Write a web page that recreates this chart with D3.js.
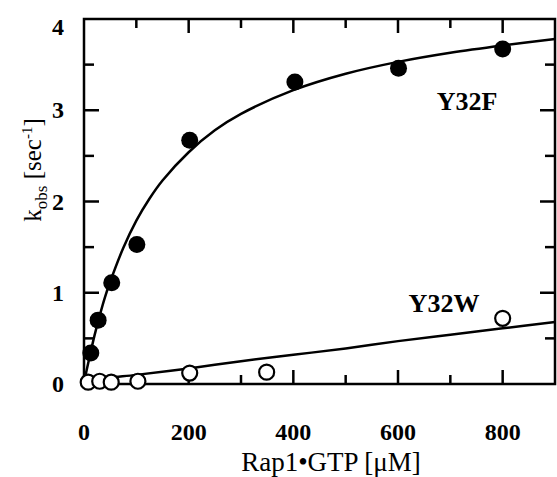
<!DOCTYPE html>
<html>
<head>
<meta charset="utf-8">
<script src="https://cdn.jsdelivr.net/npm/d3@7"></script>
<style>
  body { margin: 0; background: #fff; }
  text { font-family: "Liberation Serif", "Times New Roman", serif; fill: #000; }
</style>
</head>
<body>
<div id="chart"></div>
<script>
// measured points, Rap1*GTP [uM] vs k_obs [1/s]
const y32fX = [13, 27, 53, 101, 202, 403, 601, 800];
const y32fY = [0.34, 0.70, 1.11, 1.53, 2.67, 3.31, 3.46, 3.67];
const y32wX = [8, 30, 52, 103, 202, 349, 800];
const y32wY = [0.02, 0.03, 0.02, 0.03, 0.12, 0.13, 0.72];

// fitted curves
const fitFX = [0, 5, 10, 20, 30, 40, 50, 75, 100, 125, 150, 200, 250, 300, 400, 500, 600, 700, 800, 900];
const fitFY = [0, 0.15, 0.28, 0.53, 0.75, 0.95, 1.12, 1.49, 1.79, 2.03, 2.23, 2.54, 2.78, 2.96, 3.22, 3.40, 3.53, 3.63, 3.71, 3.78];
const fitWX = [0, 10, 25, 50, 100, 200, 300, 400, 500, 600, 700, 800, 900];
const fitWY = [0, 0.03, 0.05, 0.07, 0.10, 0.17, 0.25, 0.32, 0.39, 0.47, 0.54, 0.61, 0.68];

const xMajor = [0, 200, 400, 600, 800];
const xMinor = [100, 300, 500, 700];
const yMajor = [0, 1, 2, 3, 4];
const yMinor = [0.5, 1.5, 2.5, 3.5];

const width = 557, height = 477;
const plotL = 84, plotR = 555, plotT = 19, plotB = 384;

const svg = d3.select('#chart').append('svg')
  .attr('width', width)
  .attr('height', height);

const x = d3.scaleLinear().domain([0, 900]).range([plotL, plotR]);
const y = d3.scaleLinear().domain([0, 4]).range([plotB, plotT]);

// frame
svg.append('rect')
  .attr('x', plotL).attr('y', plotT)
  .attr('width', plotR - plotL).attr('height', plotB - plotT)
  .attr('fill', 'none').attr('stroke', '#000').attr('stroke-width', 2.5);

const ticks = svg.append('g').attr('stroke', '#000').attr('stroke-width', 2.5);

// inward ticks on all four sides
const addX = (vals, len) => {
  vals.forEach((v) => {
    ticks.append('line').attr('x1', x(v)).attr('x2', x(v)).attr('y1', plotB).attr('y2', plotB - len);
    ticks.append('line').attr('x1', x(v)).attr('x2', x(v)).attr('y1', plotT).attr('y2', plotT + len);
  });
};
const addY = (vals, len) => {
  vals.forEach((v) => {
    ticks.append('line').attr('y1', y(v)).attr('y2', y(v)).attr('x1', plotL).attr('x2', plotL + len);
    ticks.append('line').attr('y1', y(v)).attr('y2', y(v)).attr('x1', plotR).attr('x2', plotR - len);
  });
};
addX(xMajor.slice(1), 14);
addX(xMinor, 9);
addY(yMajor.slice(1, 4), 15);
addY(yMinor, 10);

// tick labels
svg.append('g').selectAll('text')
  .data(xMajor)
  .join('text')
    .attr('x', (d) => x(d))
    .attr('y', 440)
    .attr('text-anchor', 'middle')
    .attr('font-size', 24)
    .attr('font-weight', 'bold')
    .text((d) => d);

svg.append('g').selectAll('text')
  .data(yMajor)
  .join('text')
    .attr('x', 64)
    .attr('y', (d) => Math.max(y(d), 27) + 8)
    .attr('text-anchor', 'end')
    .attr('font-size', 24)
    .attr('font-weight', 'bold')
    .text((d) => d);

// axis titles
svg.append('text')
  .attr('x', 331)
  .attr('y', 471)
  .attr('text-anchor', 'middle')
  .attr('font-size', 27)
  .text('Rap1\u2022GTP [\u03bcM]');

const yt = svg.append('text')
  .attr('transform', 'translate(41,170) rotate(-90)')
  .attr('text-anchor', 'middle')
  .attr('font-size', 25);
yt.append('tspan').text('k');
yt.append('tspan').attr('font-size', 17).attr('dy', 6).text('obs');
yt.append('tspan').attr('dy', -6).text(' [sec');
yt.append('tspan').attr('font-size', 15).attr('dy', -9).text('-1');
yt.append('tspan').attr('dy', 9).text(']');

// fit curves
const line = d3.line()
  .x((d) => x(d[0]))
  .y((d) => y(d[1]))
  .curve(d3.curveCatmullRom);

svg.append('path')
  .attr('d', line(d3.zip(fitFX, fitFY)))
  .attr('fill', 'none').attr('stroke', '#000').attr('stroke-width', 2.5);
svg.append('path')
  .attr('d', line(d3.zip(fitWX, fitWY)))
  .attr('fill', 'none').attr('stroke', '#000').attr('stroke-width', 2.5);

// points
svg.append('g').selectAll('circle')
  .data(d3.zip(y32wX, y32wY))
  .join('circle')
    .attr('cx', (d) => x(d[0]))
    .attr('cy', (d) => y(d[1]))
    .attr('r', 7.5)
    .attr('fill', '#fff')
    .attr('stroke', '#000')
    .attr('stroke-width', 2.2);

svg.append('g').selectAll('circle')
  .data(d3.zip(y32fX, y32fY))
  .join('circle')
    .attr('cx', (d) => x(d[0]))
    .attr('cy', (d) => y(d[1]))
    .attr('r', 8.5)
    .attr('fill', '#000');

// series labels
svg.append('text')
  .attr('x', 467).attr('y', 110)
  .attr('text-anchor', 'middle')
  .attr('font-size', 26).attr('font-weight', 'bold')
  .text('Y32F');
svg.append('text')
  .attr('x', 444).attr('y', 312)
  .attr('text-anchor', 'middle')
  .attr('font-size', 26).attr('font-weight', 'bold')
  .text('Y32W');
</script>
</body>
</html>
